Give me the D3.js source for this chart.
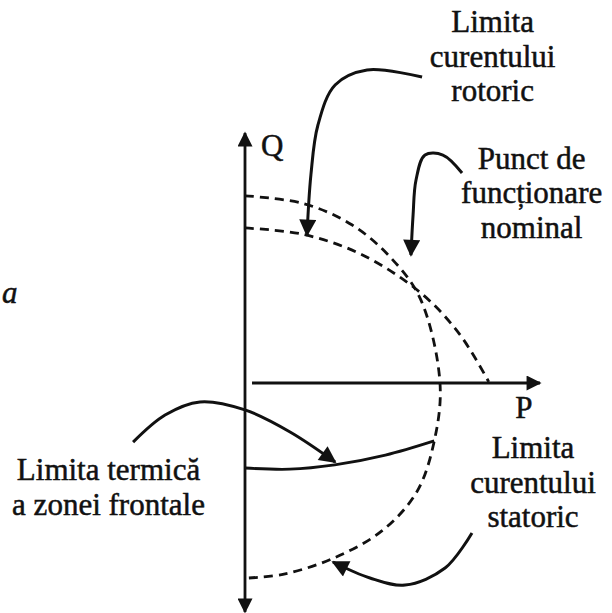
<!DOCTYPE html>
<html>
<head>
<meta charset="utf-8">
<script src="https://cdn.jsdelivr.net/npm/d3@7"></script>
<style>
  body { margin: 0; background: #fff; }
  svg { display: block; }
</style>
</head>
<body>
<div id="chart"></div>
<script>
// capability diagram, values in per-unit (stator limit ~ 1)
let statorP = [0, 0.3, 0.55, 0.75, 0.9, 1.0, 0.97, 0.88, 0.7, 0.45, 0.2, 0.02]
let statorQ = [0.96, 0.92, 0.81, 0.64, 0.43, 0, -0.3, -0.56, -0.76, -0.9, -0.98, -1.0]

let rotorP = [0, 0.3, 0.6, 0.9, 1.1, 1.25]
let rotorQ = [0.795, 0.762, 0.658, 0.463, 0.251, 0.006]

let thermalP = [0, 0.23, 0.46, 0.72, 0.97]
let thermalQ = [-0.436, -0.442, -0.42, -0.37, -0.297]

// annotation arrows (pointer lines), same units
let arrowRotorP = [0.908, 0.626, 0.462, 0.374, 0.338, 0.318]
let arrowRotorQ = [1.569, 1.605, 1.528, 1.323, 1.067, 0.759]
let arrowNomP = [1.113, 1.015, 0.923, 0.877, 0.862, 0.851]
let arrowNomQ = [1.077, 1.169, 1.169, 1.041, 0.862, 0.656]
let arrowThermP = [-0.574, -0.41, -0.231, 0, 0.231, 0.462]
let arrowThermQ = [-0.303, -0.164, -0.097, -0.138, -0.251, -0.405]
let arrowStatP = [1.164, 1.026, 0.821, 0.641, 0.451]
let arrowStatQ = [-0.769, -0.949, -1.036, -1.0, -0.918]

let axisQ = [-1.174, 1.282]
let axisP = [0.036, 1.513]

let labels = [
  { lines: ['Limita', 'curentului', 'rotoric'], p: 1.27, q: 1.80 },
  { lines: ['Punct de', 'funcționare', 'nominal'], p: 1.47, q: 1.10 },
  { lines: ['Limita', 'curentului', 'statoric'], p: 1.477, q: -0.385 },
  { lines: ['Limita termică', 'a zonei frontale'], p: -0.70, q: -0.498 }
]

let width = 612, height = 613
let serif = '"Liberation Serif", "Times New Roman", Tinos, "DejaVu Serif", serif'

let svg = d3.select('#chart')
  .append('svg')
  .attr('width', width)
  .attr('height', height)
  .attr('font-family', serif)

let x = d3.scaleLinear().domain([0, 1]).range([245, 440])
let y = d3.scaleLinear().domain([0, 1]).range([383, 188])

let zip = (ps, qs) => ps.map((p, i) => [p, qs[i]])

let smooth = d3.line()
  .x(d => x(d[0]))
  .y(d => y(d[1]))
  .curve(d3.curveCatmullRom.alpha(0.5))

// arrow heads
let defs = svg.append('defs')
defs.append('marker')
  .attr('id', 'head')
  .attr('viewBox', '0 0 10 10')
  .attr('refX', 9)
  .attr('refY', 5)
  .attr('markerUnits', 'userSpaceOnUse')
  .attr('markerWidth', 22)
  .attr('markerHeight', 17)
  .attr('orient', 'auto')
  .append('path')
  .attr('d', 'M0,0 L10,5 L0,10 Z')
  .attr('fill', '#111')

defs.append('marker')
  .attr('id', 'axisHead')
  .attr('viewBox', '0 0 10 10')
  .attr('refX', 9)
  .attr('refY', 5)
  .attr('markerUnits', 'userSpaceOnUse')
  .attr('markerWidth', 18)
  .attr('markerHeight', 15)
  .attr('orient', 'auto-start-reverse')
  .append('path')
  .attr('d', 'M0,0 L10,5 L0,10 Z')
  .attr('fill', '#111')

// axes
svg.append('line')
  .attr('x1', x(0)).attr('x2', x(0))
  .attr('y1', y(axisQ[0])).attr('y2', y(axisQ[1]))
  .attr('stroke', '#111').attr('stroke-width', 2.8)
  .attr('marker-start', 'url(#axisHead)')
  .attr('marker-end', 'url(#axisHead)')

svg.append('line')
  .attr('x1', x(axisP[0])).attr('x2', x(axisP[1]))
  .attr('y1', y(0)).attr('y2', y(0))
  .attr('stroke', '#111').attr('stroke-width', 2.8)
  .attr('marker-end', 'url(#axisHead)')

// scanned print looks heavier than regular weight
let ink = sel => sel.attr('fill', '#111').attr('stroke', '#111').attr('stroke-width', 0.5)

svg.append('text').attr('x', x(0) + 16).attr('y', y(axisQ[1]) + 23)
  .call(ink).style('font-size', '31px').text('Q')
svg.append('text').attr('x', x(1.43)).attr('y', y(-0.18))
  .call(ink).style('font-size', '31px').style('text-anchor', 'middle').text('P')
svg.append('text').attr('x', 2).attr('y', 303)
  .call(ink).style('font-size', '31px').style('font-style', 'italic').text('a')

// limit curves
svg.append('path')
  .attr('d', smooth(zip(statorP, statorQ)))
  .attr('fill', 'none').attr('stroke', '#111')
  .attr('stroke-width', 2.8).attr('stroke-dasharray', '9,6')

svg.append('path')
  .attr('d', smooth(zip(rotorP, rotorQ)))
  .attr('fill', 'none').attr('stroke', '#111')
  .attr('stroke-width', 2.8).attr('stroke-dasharray', '9,6')

svg.append('path')
  .attr('d', smooth(zip(thermalP, thermalQ)))
  .attr('fill', 'none').attr('stroke', '#111')
  .attr('stroke-width', 2.8)

// pointer arrows
let arrows = [
  zip(arrowRotorP, arrowRotorQ),
  zip(arrowNomP, arrowNomQ),
  zip(arrowThermP, arrowThermQ),
  zip(arrowStatP, arrowStatQ)
]
svg.selectAll('.pointer')
  .data(arrows)
  .enter().append('path')
  .attr('class', 'pointer')
  .attr('d', d => smooth(d))
  .attr('fill', 'none').attr('stroke', '#111')
  .attr('stroke-width', 3)
  .attr('marker-end', 'url(#head)')

// text blocks
let blocks = svg.selectAll('.label')
  .data(labels)
  .enter().append('text')
  .attr('class', 'label')
  .call(ink)
  .style('font-size', '31px')
  .style('text-anchor', 'middle')

blocks.selectAll('tspan')
  .data(d => d.lines.map((l, i) => ({ l: l, i: i, d: d })))
  .enter().append('tspan')
  .attr('x', t => x(t.d.p))
  .attr('y', t => y(t.d.q) + t.i * 34.5)
  .text(t => t.l)
</script>
</body>
</html>
